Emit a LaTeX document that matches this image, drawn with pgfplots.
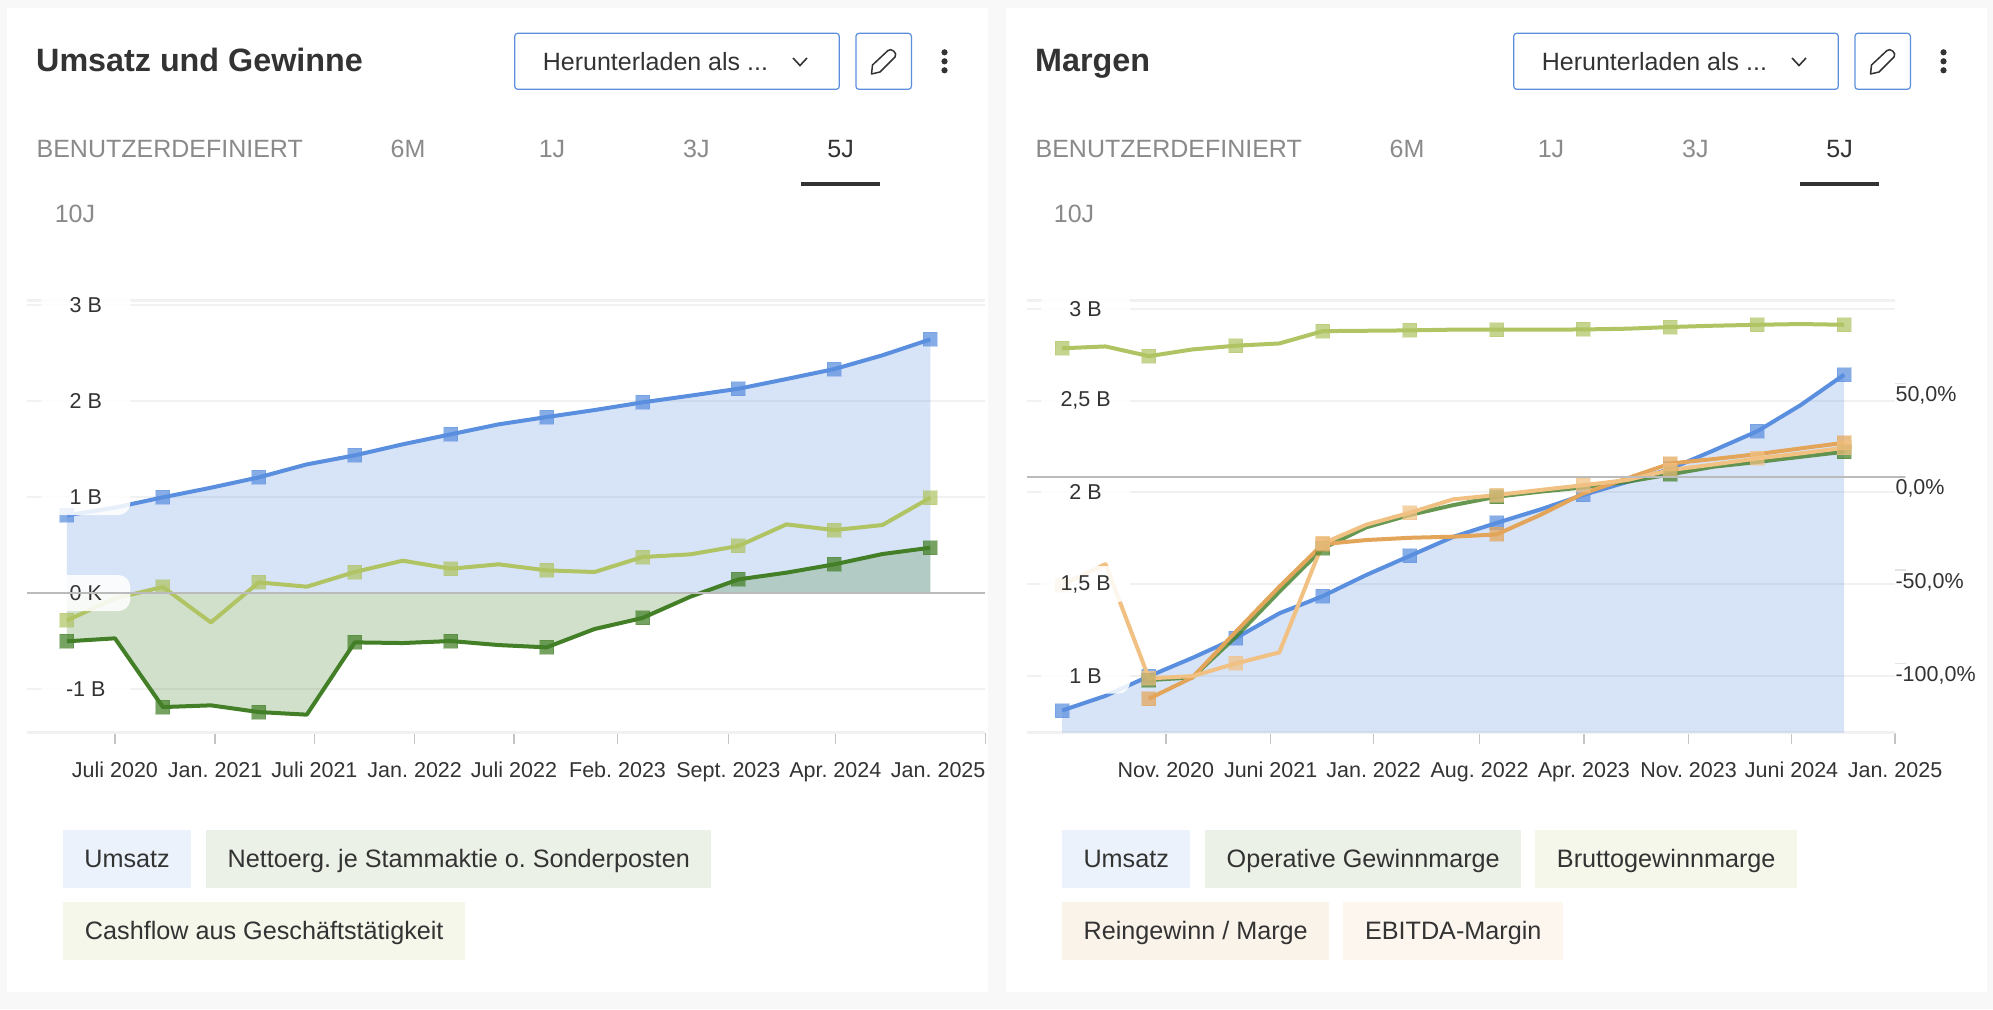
\documentclass[border=0pt]{standalone}
\usepackage{fontspec}
\setmainfont{Liberation Sans}
\usepackage{pgfplots}
\usepackage{pgfplotstable}
\pgfplotsset{compat=1.18}

\definecolor{pagebg}{HTML}{F8F8F8}
\definecolor{ink}{HTML}{333333}
\definecolor{tabgray}{HTML}{8A8A8A}
\definecolor{faint}{HTML}{F1F1F1}
\definecolor{tickgray}{HTML}{C4C4C4}
\definecolor{tickfaint}{HTML}{E4E4E4}
\definecolor{zeroline}{HTML}{BBBBBB}
\definecolor{btnblue}{HTML}{5B8FDE}
\definecolor{cblue}{HTML}{5A8EDF}
\definecolor{cdark}{HTML}{427F26}
\definecolor{clight}{HTML}{B0C464}
\definecolor{corange}{HTML}{E3A559}
\definecolor{clorange}{HTML}{F0C182}
\definecolor{ChipBlue}{HTML}{EBF2FB}
\definecolor{ChipDark}{HTML}{ECF1E8}
\definecolor{ChipLight}{HTML}{F4F7EA}
\definecolor{ChipOrange}{HTML}{FAF3EA}
\definecolor{ChipLOrange}{HTML}{FCF6EF}

% values, one row per half marker step
\pgfplotstableread{
i rev net cash
0 0.810 -0.503 -0.285
1 0.890 -0.472 -0.056
2 0.997 -1.188 0.063
3 1.097 -1.170 -0.306
4 1.205 -1.240 0.111
5 1.340 -1.267 0.066
6 1.434 -0.514 0.219
7 1.549 -0.521 0.337
8 1.653 -0.500 0.253
9 1.757 -0.542 0.299
10 1.833 -0.566 0.236
11 1.906 -0.375 0.219
12 1.986 -0.260 0.375
13 2.056 -0.038 0.403
14 2.128 0.142 0.490
15 2.229 0.212 0.715
16 2.333 0.299 0.656
17 2.476 0.406 0.708
18 2.642 0.472 0.993
}\leftdata

\pgfplotstableread{
i gross ebitda
0 68.8 -58.0
1 69.8 -46.8
2 64.6 -108.0
3 68.2 -106.8
4 70.2 -100.0
5 71.4 -94.1
6 78.0 -35.7
7 78.2 -25.7
8 78.4 -19.3
9 78.8 -12.1
10 78.8 -9.8
11 78.8 -7.1
12 78.9 -4.5
13 79.3 -1.8
14 80.2 3.6
15 80.9 6.6
16 81.4 9.8
17 81.8 12.5
18 81.4 15.5
}\rightdata

\pgfplotstableread{
i op netm
2 -108.9 -118.9
3 -107.5 -107.5
4 -85.7 -83.0
5 -61.6 -58.9
6 -38.4 -36.1
7 -27.1 -33.9
8 -20.5 -32.7
9 -15.2 -32.1
10 -10.7 -30.9
11 -8.0 -20.5
12 -5.7 -8.9
13 -2.7 -0.9
14 1.3 7.1
15 5.4 9.5
16 7.9 12.1
17 10.7 15.2
18 13.4 18.2
}\rightlate

\pgfplotsset{
  panel/.style={scale only axis, clip=true,
    y axis line style={draw=none},
    x axis line style={draw=faint, line width=2pt},
    ytick style={draw=none}, yticklabels={},
    xtick pos=bottom, tick align=outside,
    major tick length=11pt,
    xtick style={draw=tickgray, line width=1.5pt},
    grid=none, ymajorgrids=true,
    grid style={draw=faint, line width=2pt},
    extra tick style={grid=major, grid style={draw=faint, line width=3pt}},
    extra y tick labels={},
    xticklabel style={anchor=base, yshift=-34pt, text=ink,
      font=\fontsize{21.5}{26}\selectfont},
  },
  overlay/.style={scale only axis, axis line style={draw=none},
    xtick=\empty, tick style={draw=none}, major tick length=0pt,
    yticklabel style={anchor=center, xshift=59pt, text=ink,
      font=\fontsize{21.5}{26}\selectfont,
      fill=white, fill opacity=.86, text opacity=1, rounded corners=12pt,
      minimum width=89pt, minimum height=36pt, inner sep=0pt},
  },
  ser/.style={draw=#1, line width=4pt, line join=round,
    mark=square*, mark size=7pt,
    mark options={draw=#1, line width=1pt, draw opacity=.35, fill=#1, fill opacity=.72, solid}},
  every2/.style={mark repeat=2, mark phase=1},
  every4/.style={mark indices={1,5,9,13,17}},
  area/.style={draw=none, fill=#1, fill opacity=.24, forget plot},
}

\newcommand{\chip}[5]{% x0 x1 y0 fill text
  \node[fill=#4, minimum width=#2pt-#1pt, minimum height=57.7pt, inner sep=0pt,
    text height=22pt, text depth=4.7pt,
    text=ink, font=\fontsize{25.2}{30}\selectfont, anchor=north west]
    at (#1,#3) {#5};}

\newcommand{\widgets}[1]{%
  \fill[white] (7,8) rectangle (988,992);
  \node[anchor=base west, inner sep=0pt, text=ink, font=\bfseries\fontsize{32.3}{38}\selectfont] at (36,71.7) {#1};
  \draw[btnblue, line width=1.2pt, rounded corners=3pt] (514.7,33.3) rectangle (839.3,89.3);
  \node[anchor=base west, inner sep=0pt, text=ink, font=\fontsize{25}{30}\selectfont] at (542.7,70) {Herunterladen als ...};
  \draw[ink, line width=1.6pt] (793,58) -- (800,65.5) -- (807,58);
  \draw[btnblue, line width=1.2pt, rounded corners=3pt] (855.9,33.3) rectangle (911.4,89.3);
  \draw[ink, line width=1.5pt, line join=round]
    (871.5,74) -- (872.5,65) -- (888,50.5) .. controls (891,47.5) and (898,53) .. (895,57)
    -- (880,72) -- cycle;
  \foreach \yy in {52.3,61.3,70.3} \fill[ink] (944.5,\yy) circle (3.1);
  \begin{scope}[every node/.style={inner sep=0pt, font=\fontsize{25}{30}\selectfont, text=tabgray, anchor=base}]
    \node[anchor=base west] at (36.4,157.7) {BENUTZERDEFINIERT};
    \node at (408,157.7) {6M};
    \node at (552,157.7) {1J};
    \node at (696.4,157.7) {3J};
    \node[text=ink] at (840.6,157.7) {5J};
    \node at (75,222.7) {10J};
  \end{scope}
  \fill[ink] (801,181.7) rectangle (880,186);
}

\begin{document}
\frenchspacing
\begin{tikzpicture}[x=1pt,y=-1pt]
\useasboundingbox (0,0) rectangle (1993,1009);
\fill[pagebg] (0,0) rectangle (1993,1009);

% ---------- left panel
\widgets{Umsatz und Gewinne}
\begin{axis}[panel, at={(26.8pt,-732.7pt)}, anchor=south west, width=958.6pt, height=432pt,
    xmin=-0.838, xmax=19.15, ymin=-1.455, ymax=3.045,
    ytick={-1,0,1,2,3}, extra y ticks={-1.455,3.045},
    xtick={1,3.09,5.16,7.25,9.32,11.48,13.79,16.02,19.15},
    xticklabels={Juli 2020,Jan. 2021,Juli 2021,Jan. 2022,Juli 2022,Feb. 2023,Sept. 2023,Apr. 2024,\makebox[0pt][r]{Jan. 2025}}]
  \addplot[area=cblue] table[x=i,y=rev]{\leftdata} \closedcycle;
  \addplot[area=cdark] table[x=i,y=net]{\leftdata} \closedcycle;
  \addplot[ser=cblue, every2] table[x=i,y=rev]{\leftdata};
  \addplot[ser=clight, every2] table[x=i,y=cash]{\leftdata};
  \addplot[ser=cdark, every2] table[x=i,y=net]{\leftdata};
\end{axis}
\begin{axis}[overlay, at={(26.8pt,-732.7pt)}, anchor=south west, width=958.6pt, height=432pt,
    xmin=-0.838, xmax=19.15, ymin=-1.455, ymax=3.045,
    ytick={-1,0,1,2,3}, yticklabels={-1 B,0 K,1 B,2 B,3 B}]
  \addplot[draw=zeroline, line width=2pt] coordinates {(-0.838,0) (19.15,0)};
\end{axis}
\chip{63.1}{190.7}{830}{ChipBlue}{Umsatz}
\chip{206}{711}{830}{ChipDark}{Nettoerg. je Stammaktie o. Sonderposten}
\chip{63.1}{465}{902}{ChipLight}{Cashflow aus Geschäftstätigkeit}

% ---------- right panel
\begin{scope}[xshift=999pt]
\widgets{Margen}
\end{scope}
\begin{axis}[panel, at={(1026.6pt,-732.7pt)}, anchor=south west, width=868.4pt, height=432pt,
    xmin=-0.816, xmax=19.17, ymin=0.689, ymax=3.045,
    ytick={1,1.5,2,2.5,3}, extra y ticks={0.689,3.045},
    xtick={2.39,4.80,7.17,9.61,12.01,14.42,16.79,19.17},
    xticklabels={Nov. 2020,Juni 2021,Jan. 2022,Aug. 2022,Apr. 2023,Nov. 2023,Juni 2024,Jan. 2025}]
  \addplot[area=cblue] table[x=i,y=rev]{\leftdata} \closedcycle;
  \addplot[ser=cblue, every2] table[x=i,y=rev]{\leftdata};
\end{axis}
\begin{axis}[scale only axis, at={(1026.6pt,-732.7pt)}, anchor=south west, width=868.4pt, height=432pt,
    xmin=-0.816, xmax=19.17, ymin=-137.1, ymax=94.3,
    axis line style={draw=none}, xtick=\empty,
    ytick pos=right, tick align=outside, major tick length=11pt,
    ytick style={draw=tickfaint, line width=1.5pt},
    ytick={-100,-50,0,50},
    yticklabels={{-100,0\%},{-50,0\%},{0,0\%},{50,0\%}},
    yticklabel style={anchor=west, xshift=-14pt, yshift=-12pt, text=ink,
      font=\fontsize{21.5}{26}\selectfont}]
  \addplot[ser=clight, every2] table[x=i,y=gross]{\rightdata};
  \addplot[ser=cdark, every4, draw opacity=.8] table[x=i,y=op]{\rightlate};
  \addplot[ser=corange, every4] table[x=i,y=netm]{\rightlate};
  \addplot[ser=clorange, every2] table[x=i,y=ebitda]{\rightdata};
\end{axis}
\begin{axis}[overlay, at={(1026.6pt,-732.7pt)}, anchor=south west, width=868.4pt, height=432pt,
    xmin=-0.816, xmax=19.17, ymin=0.689, ymax=3.045,
    ytick={1,1.5,2,2.5,3}, yticklabels={1 B,{1,5 B},2 B,{2,5 B},3 B}]
\end{axis}
\begin{axis}[hide axis, scale only axis, clip=false, at={(1026.6pt,-732.7pt)}, anchor=south west, width=868.4pt, height=432pt,
    xmin=-0.816, xmax=19.17, ymin=-137.1, ymax=94.3]
  \addplot[draw=zeroline, line width=2pt] coordinates {(-0.816,0) (19.41,0)};
\end{axis}
\chip{1062}{1190}{830}{ChipBlue}{Umsatz}
\chip{1205}{1521}{830}{ChipDark}{Operative Gewinnmarge}
\chip{1535}{1797}{830}{ChipLight}{Bruttogewinnmarge}
\chip{1062}{1329}{902}{ChipOrange}{Reingewinn / Marge}
\chip{1343}{1563}{902}{ChipLOrange}{EBITDA-Margin}
\end{tikzpicture}
\end{document}
